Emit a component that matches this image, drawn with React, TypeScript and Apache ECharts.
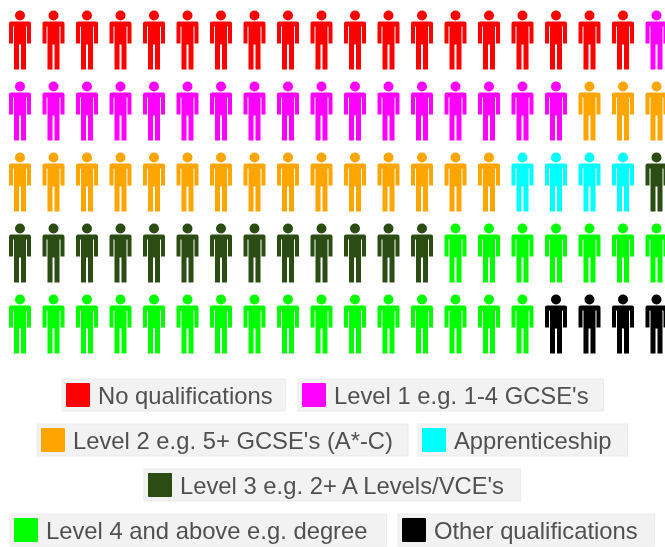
import React, { useEffect, useRef } from "react";
import * as echarts from "echarts";

const categories = [
  "No qualifications",
  "Level 1 e.g. 1-4 GCSE's",
  "Level 2 e.g. 5+ GCSE's (A*-C)",
  "Apprenticeship",
  "Level 3 e.g. 2+ A Levels/VCE's",
  "Level 4 and above e.g. degree",
  "Other qualifications",
];
const counts = [19, 18, 18, 4, 14, 23, 4];
const colors = ["#ff0000", "#ff00ff", "#ffa500", "#00ffff", "#2b4d14", "#00ff00", "#000000"];
const columnsPerRow = 20;
const rowsTotal = 5;

const legendBoxes = [
  { left: 62, top: 379, right: 13 },
  { left: 298, top: 379, right: 15 },
  { left: 37, top: 424, right: 15 },
  { left: 418, top: 424, right: 16 },
  { left: 144, top: 469, right: 14 },
  { left: 10, top: 514, right: 19 },
  { left: 398, top: 514, right: 17 },
];

const person =
  "path://M11 0a5 5 0 1 1 0 10a5 5 0 1 1 0-10zM2 11H20Q22 11 22 13V33H18V16H17V59H12V34H10V59H5V16H4V33H0V13Q0 11 2 11Z";
const swatch = "path://M1 0H23Q24 0 24 1V23Q24 24 23 24H1Q0 24 0 23V1Q0 0 1 0Z";

export default function App() {
  const ref = useRef<HTMLDivElement>(null);
  useEffect(() => {
    const chart = echarts.init(ref.current!, undefined, { renderer: "svg" });
    let idx = 0;
    const series = categories.map((name, i) => {
      const data: number[][] = [];
      for (let n = 0; n < counts[i]; n++) {
        data.push([idx % columnsPerRow, Math.floor(idx / columnsPerRow)]);
        idx++;
      }
      return {
        name,
        type: "scatter" as const,
        data,
        symbol: person,
        symbolSize: [22, 59],
        clip: false,
        silent: true,
        itemStyle: { color: colors[i], opacity: 1 },
      };
    });
    chart.setOption({
      animation: false,
      backgroundColor: "#ffffff",
      grid: { left: 20, right: 8.5, top: 40, height: 284 },
      xAxis: { type: "value", min: 0, max: columnsPerRow - 1, show: false },
      yAxis: { type: "value", min: 0, max: rowsTotal - 1, inverse: true, show: false },
      legend: categories.map((name, i) => ({
        data: [{ name, icon: swatch, itemStyle: { color: colors[i], opacity: 1 } }],
        left: legendBoxes[i].left,
        top: legendBoxes[i].top,
        orient: "horizontal",
        selectedMode: false,
        itemWidth: 24,
        itemHeight: 24,
        itemGap: 0,
        padding: [4, legendBoxes[i].right, 4, 4],
        backgroundColor: "#f2f2f2",
        borderColor: "#ebebeb",
        borderWidth: 1,
        textStyle: {
          fontFamily: "Liberation Sans",
          fontSize: 23.8,
          color: "#505050",
          padding: [4, 0, 0, 3],
        },
      })),
      series,
    });
    return () => chart.dispose();
  }, []);
  return (
    <div
      ref={ref}
      style={{
        position: "absolute",
        left: 0,
        top: 0,
        width: 665,
        height: 547,
        overflow: "hidden",
        filter: "blur(0.5px)",
      }}
    />
  );
}
